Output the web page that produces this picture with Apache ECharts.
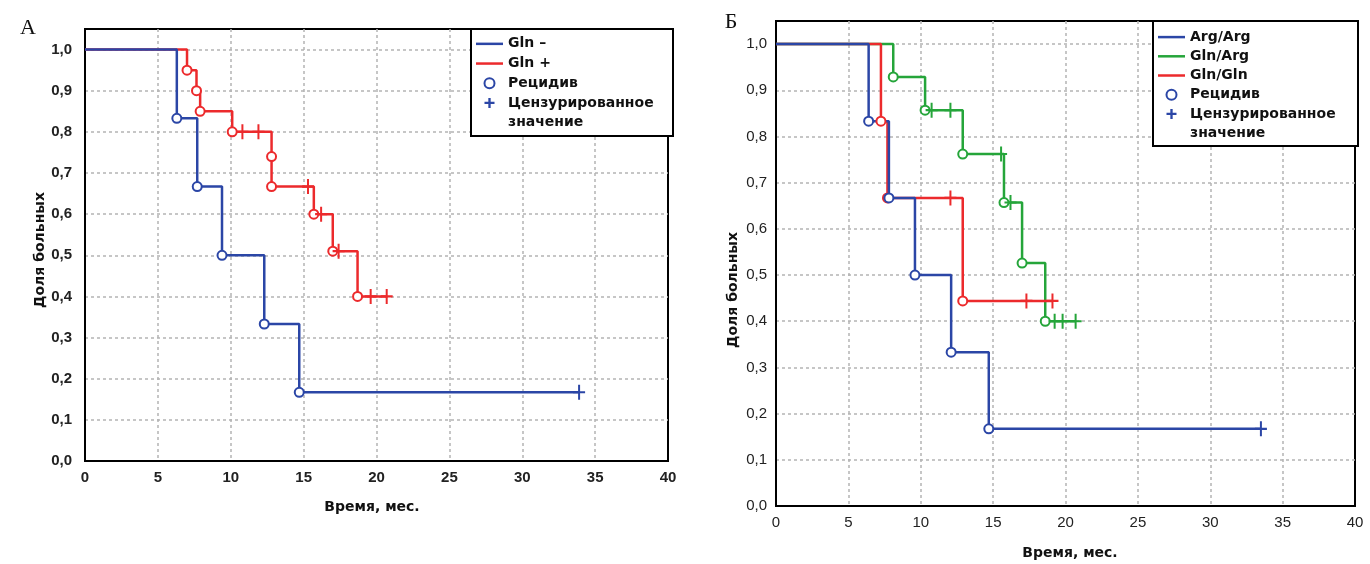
<!DOCTYPE html>
<html>
<head>
<meta charset="utf-8">
<script src="https://cdn.jsdelivr.net/npm/echarts@6/dist/echarts.min.js"></script>
<style>
html, body { margin: 0; padding: 0; background: #fff; }
#chart { width: 1370px; height: 564px; }
</style>
</head>
<body>
<div id="chart"></div>
<script>
// panel A: Gln - / Gln +   (kind: e = рецидив, c = цензурированное)
var aBlueTime = [6.3, 7.7, 9.4, 12.3, 14.7, 33.9];
var aBlueSurv = [0.833, 0.667, 0.5, 0.333, 0.167, 0.167];
var aBlueKind = ['e', 'e', 'e', 'e', 'e', 'c'];

var aRedTime = [7.0, 7.65, 7.9, 10.1, 10.8, 11.9, 12.8, 12.8, 15.3, 15.7, 16.2, 17.0, 17.4, 18.7, 19.6, 20.7];
var aRedSurv = [0.95, 0.90, 0.85, 0.80, 0.80, 0.80, 0.74, 0.667, 0.667, 0.60, 0.60, 0.51, 0.51, 0.40, 0.40, 0.40];
var aRedKind = ['e', 'e', 'e', 'e', 'c', 'c', 'e', 'e', 'c', 'e', 'c', 'e', 'c', 'e', 'c', 'c'];

// panel B: Arg/Arg, Gln/Arg, Gln/Gln
var bBlueTime = [6.4, 7.8, 9.6, 12.1, 14.7, 33.5];
var bBlueSurv = [0.833, 0.667, 0.5, 0.333, 0.167, 0.167];
var bBlueKind = ['e', 'e', 'e', 'e', 'e', 'c'];

var bGreenTime = [8.1, 10.3, 10.75, 12.05, 12.9, 15.55, 15.75, 16.2, 17.0, 18.6, 19.25, 19.8, 20.7];
var bGreenSurv = [0.929, 0.857, 0.857, 0.857, 0.762, 0.762, 0.657, 0.657, 0.526, 0.40, 0.40, 0.40, 0.40];
var bGreenKind = ['e', 'e', 'c', 'c', 'e', 'c', 'e', 'c', 'e', 'e', 'c', 'c', 'c'];

var bRedTime = [7.25, 7.7, 12.05, 12.9, 17.3, 19.1];
var bRedSurv = [0.833, 0.667, 0.667, 0.444, 0.444, 0.444];
var bRedKind = ['e', 'e', 'c', 'e', 'c', 'c'];

var legendA = ['Gln –', 'Gln +'];
var legendB = ['Arg/Arg', 'Gln/Arg', 'Gln/Gln'];

var BLUE = '#2b46a6';
var RED = '#ec2a2c';
var GREEN = '#25a53a';
var CROSS = 'path://M-1,-7L1,-7L1,-1L6,-1L6,1L1,1L1,7L-1,7L-1,1L-6,1L-6,-1L-1,-1Z';
var LEGEND_CROSS = 'path://M-1.4,-6L1.4,-6L1.4,-1.4L6,-1.4L6,1.4L1.4,1.4L1.4,6L-1.4,6L-1.4,1.4L-6,1.4L-6,-1.4L-1.4,-1.4Z';
var LEGEND_LINE = 'path://M0,0L27,0L27,2.5L0,2.5Z';

var stepPoints = function (time, surv) {
    var pts = [[0, 1]];
    var prev = 1;
    for (var i = 0; i < time.length; i++) {
        if (surv[i] !== prev) {
            pts.push([time[i], prev]);
        }
        pts.push([time[i], surv[i]]);
        prev = surv[i];
    }
    return pts;
};

var pickPoints = function (time, surv, kind, want) {
    var pts = [];
    for (var i = 0; i < time.length; i++) {
        if (kind[i] === want) pts.push([time[i], surv[i]]);
    }
    return pts;
};

var curve = function (name, time, surv, kind, color, g) {
    return [
        {
            name: name, type: 'line', xAxisIndex: g, yAxisIndex: g,
            data: stepPoints(time, surv), symbol: 'none', silent: true,
            lineStyle: { color: color, width: 2.5 }, itemStyle: { color: color }
        },
        {
            name: name + '_e', type: 'scatter', xAxisIndex: g, yAxisIndex: g,
            data: pickPoints(time, surv, kind, 'e'), symbol: 'emptyCircle', symbolSize: 9,
            itemStyle: { color: color, borderWidth: 2, opacity: 1 }, z: 3
        },
        {
            name: name + '_c', type: 'scatter', xAxisIndex: g, yAxisIndex: g,
            data: pickPoints(time, surv, kind, 'c'), symbol: CROSS, symbolSize: [12, 15],
            itemStyle: { color: color, opacity: 1 }, z: 3
        }
    ];
};

var dummies = function (g) {
    return [
        { name: 'Рецидив', type: 'scatter', xAxisIndex: g, yAxisIndex: g, data: [],
          symbol: 'emptyCircle', itemStyle: { color: BLUE, borderWidth: 2, opacity: 1 } },
        { name: 'Цензурированное', type: 'scatter', xAxisIndex: g, yAxisIndex: g, data: [],
          symbol: LEGEND_CROSS, itemStyle: { color: BLUE, opacity: 1 } },
        { name: 'значение', type: 'scatter', xAxisIndex: g, yAxisIndex: g, data: [], symbol: 'none' }
    ];
};

var yFmt = function (v) {
    var t = v * 10;
    if (Math.abs(t - Math.round(t)) > 1e-6) return '';
    return v.toFixed(1).replace('.', ',');
};

var splitStyle = {
    show: true, showMinLine: false, showMaxLine: false,
    lineStyle: { color: '#b4b4b4', type: [3, 3], width: 1.5 }
};

var xAxisOf = function (g, bold, margin) {
    return {
        type: 'value', gridIndex: g, min: 0, max: 40, interval: 5,
        axisLine: { show: true, lineStyle: { color: '#000', width: 2 } },
        axisTick: { show: false },
        splitLine: splitStyle,
        axisLabel: { color: '#222', fontFamily: 'Liberation Sans', fontSize: 15,
                     fontWeight: bold ? 'bold' : 'normal', margin: margin }
    };
};
var yAxisOf = function (g, bold, margin) {
    return {
        type: 'value', gridIndex: g, min: 0, max: 1.05, interval: 0.1,
        axisLine: { show: true, lineStyle: { color: '#000', width: 2 } },
        axisTick: { show: false },
        splitLine: splitStyle,
        axisLabel: { color: '#222', fontFamily: 'Liberation Sans', fontSize: 15,
                     fontWeight: bold ? 'bold' : 'normal', margin: margin, formatter: yFmt }
    };
};

var legendOf = function (names, left, top, lh) {
    var items = names.map(function (n) { return { name: n, icon: LEGEND_LINE }; });
    return {
        orient: 'vertical', left: left, top: top, padding: 0, itemGap: 0,
        itemWidth: 27, itemHeight: 10, selectedMode: false, z: 10, symbolKeepAspect: true,
        textStyle: { color: '#111', fontFamily: 'DejaVu Sans', fontSize: 14, fontWeight: 'bold', lineHeight: lh },
        data: items.concat(['Рецидив', 'Цензурированное', { name: 'значение', icon: 'none' }])
    };
};

var titleText = function (x, y, text, rot, size, family, weight) {
    return {
        type: 'text', x: x, y: y, rotation: rot || 0, z: 10,
        style: { text: text, fill: '#111', font: (weight || 'bold') + ' ' + size + 'px ' + family,
                 textAlign: 'center', textVerticalAlign: 'middle' }
    };
};

var series = []
    .concat(curve(legendA[1], aRedTime, aRedSurv, aRedKind, RED, 0))
    .concat(curve(legendA[0], aBlueTime, aBlueSurv, aBlueKind, BLUE, 0))
    .concat(curve(legendB[1], bGreenTime, bGreenSurv, bGreenKind, GREEN, 1))
    .concat(curve(legendB[2], bRedTime, bRedSurv, bRedKind, RED, 1))
    .concat(curve(legendB[0], bBlueTime, bBlueSurv, bBlueKind, BLUE, 1))
    .concat(dummies(0));

var option = {
    animation: false,
    backgroundColor: '#fff',
    grid: [
        { left: 85, top: 29, width: 583, height: 432, show: true, borderColor: '#000', borderWidth: 2, backgroundColor: '#fff' },
        { left: 776, top: 21, width: 579, height: 485, show: true, borderColor: '#000', borderWidth: 2, backgroundColor: '#fff' }
    ],
    xAxis: [xAxisOf(0, true, 9), xAxisOf(1, false, 9)],
    yAxis: [yAxisOf(0, true, 13), yAxisOf(1, false, 9)],
    legend: [
        legendOf(legendA, 476, 34, 19.7),
        legendOf(legendB, 1158, 27.5, 19.2)
    ],
    graphic: [
        { type: 'rect', shape: { x: 471, y: 29, width: 202, height: 107 }, z: 5,
          style: { fill: '#fff', stroke: '#000', lineWidth: 2 } },
        { type: 'rect', shape: { x: 1153, y: 21, width: 205, height: 125 }, z: 5,
          style: { fill: '#fff', stroke: '#000', lineWidth: 2 } },
        titleText(28, 28, 'А', 0, 22, 'Liberation Serif', 'normal'),
        titleText(731, 22, 'Б', 0, 22, 'Liberation Serif', 'normal'),
        titleText(372, 507, 'Время, мес.', 0, 14, 'DejaVu Sans'),
        titleText(1070, 553, 'Время, мес.', 0, 14, 'DejaVu Sans'),
        titleText(40, 250, 'Доля больных', Math.PI / 2, 14, 'DejaVu Sans'),
        titleText(733, 290, 'Доля больных', Math.PI / 2, 14, 'DejaVu Sans')
    ],
    series: series
};

var myChart = echarts.init(document.getElementById('chart'));
myChart.setOption(option);
</script>
</body>
</html>
